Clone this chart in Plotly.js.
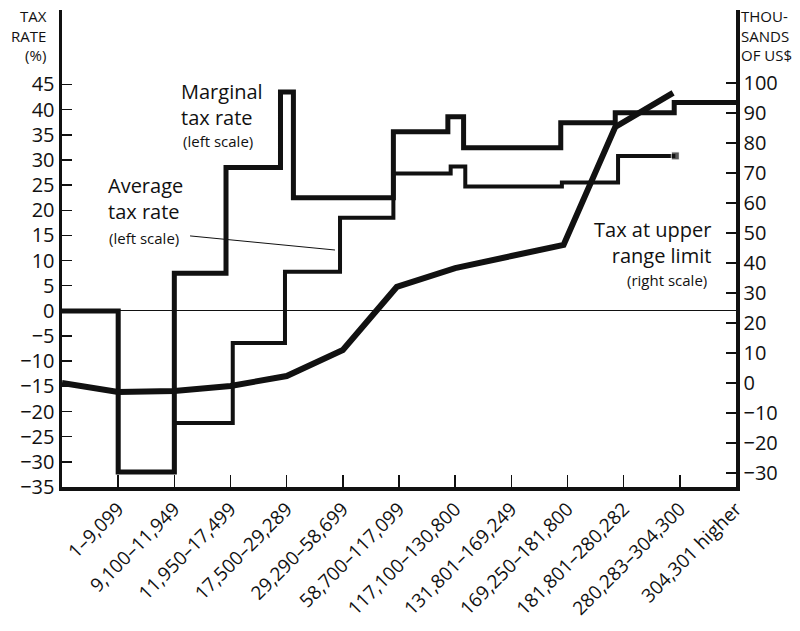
<!DOCTYPE html>
<html>
<head>
<meta charset="utf-8">
<script src="https://cdn.plot.ly/plotly-3.0.1.min.js"></script>
<style>html,body{margin:0;padding:0;background:#fff;}#chart{width:800px;height:631px;}</style>
</head>
<body>
<div id="chart"></div>
<script>
// Income brackets (US$), labels placed at each bracket's upper boundary
const brackets = ["1–9,099","9,100–11,949","11,950–17,499","17,500–29,289","29,290–58,699",
  "58,700–117,099","117,100–130,800","131,801–169,249","169,250–181,800","181,801–280,282",
  "280,283–304,300","304,301 higher"];
const bracketPos = [1,2,3,4,5,6,7,8,9,10,11,12];

// Marginal tax rate (%), step starts in bracket units (left scale)
const marginalX = [0, 1, 2, 2.92, 3.89, 4.12, 5.9, 6.87, 7.15, 8.88, 9.85, 10.9, 12];
const marginalY = [0, -32, 7.5, 28.5, 43.5, 22.5, 35.6, 38.6, 32.4, 37.4, 39.4, 41.4, 41.4];

// Average tax rate (%), step starts in bracket units (left scale)
const averageX = [0, 1, 2, 3.04, 3.97, 4.95, 5.9, 6.92, 7.18, 8.9, 9.9, 10.92];
const averageY = [0, -32, -22.3, -6.4, 7.8, 18.5, 27.3, 28.7, 24.7, 25.5, 30.8, 30.8];

// Tax at upper range limit (thousands of US$, right scale)
const taxX = [0, 1, 2, 3, 4, 5, 5.96, 7, 8, 8.93, 9.85, 10.88];
const taxY = [0, -3, -2.7, -1, 2.3, 11, 32, 38.3, 42.3, 46, 85.3, 96.7];

const leftTicks = [-35,-30,-25,-20,-15,-10,-5,0,5,10,15,20,25,30,35,40,45];
const rightTicks = [-30,-20,-10,0,10,20,30,40,50,60,70,80,90,100];

const FONT = "Open Sans, Noto Sans, sans-serif";

const avgMarkerSizes = averageX.map((_, i) => i === averageX.length - 1 ? 8 : 0);

const traces = [
  {x: averageX, y: averageY, type: 'scatter', mode: 'lines+markers', line: {shape: 'hv', color: '#111', width: 4},
   marker: {size: avgMarkerSizes, symbol: 'square', color: '#111'}, hoverinfo: 'skip'},
  {x: marginalX, y: marginalY, type: 'scatter', mode: 'lines', line: {shape: 'hv', color: '#111', width: 5}, hoverinfo: 'skip'},
  {x: taxX, y: taxY, type: 'scatter', mode: 'lines', yaxis: 'y2', line: {color: '#111', width: 6}, hoverinfo: 'skip'}
];

const ann = (text, x, y, size, xanchor, align) => ({
  text: text, x: x, y: y, xref: 'x', yref: 'y', showarrow: false, xanchor: xanchor, yanchor: 'middle',
  align: align || xanchor, borderpad: 0,
  font: {family: FONT, size: size, color: '#111'}
});

const layout = {
  width: 800, height: 631,
  margin: {l: 62, r: 64, t: 10, b: 144, pad: 0},
  paper_bgcolor: '#fff', plot_bgcolor: '#fff',
  showlegend: false,
  font: {family: FONT, color: '#111'},
  xaxis: {
    range: [0, 12], tickmode: 'array', tickvals: bracketPos, ticktext: brackets, tickangle: -45,
    ticks: 'inside', ticklen: 12, tickwidth: 1.5, tickcolor: '#111',
    showline: true, linewidth: 3.5, linecolor: '#111', showgrid: false, zeroline: false,
    tickfont: {family: FONT, size: 19, color: '#111'}
  },
  yaxis: {
    range: [-35, 59.8], tickmode: 'array', tickvals: leftTicks,
    ticks: 'inside', ticklen: 10, tickwidth: 1.5, tickcolor: '#111',
    showline: true, linewidth: 3.5, linecolor: '#111', showgrid: false,
    zeroline: true, zerolinewidth: 1.2, zerolinecolor: '#111',
    tickfont: {family: FONT, size: 20, color: '#111'}
  },
  yaxis2: {
    range: [-34.67, 124.3], overlaying: 'y', side: 'right', tickmode: 'array', tickvals: rightTicks,
    ticks: 'inside', ticklen: 10, tickwidth: 1.5, tickcolor: '#111',
    showline: true, linewidth: 3.5, linecolor: '#111', showgrid: false, zeroline: false,
    tickfont: {family: FONT, size: 20, color: '#111'}
  },
  annotations: [
    ann('Marginal<br>tax rate', 2.1, 41.0, 20, 'left'),
    ann('(left scale)', 2.13, 33.8, 15, 'left'),
    ann('Average<br>tax rate', 0.8, 22.3, 20, 'left'),
    ann('(left scale)', 0.82, 14.4, 15, 'left'),
    ann('Tax at upper<br>range limit', 11.57, 13.5, 20, 'right'),
    ann('(right scale)', 11.5, 6.1, 15, 'right'),
    {text: 'TAX<br>RATE<br>(%)', xref: 'paper', yref: 'paper', x: -0.021, y: 1.01, xanchor: 'right', yanchor: 'top',
     align: 'right', showarrow: false, borderpad: 0, font: {family: FONT, size: 15, color: '#111'}},
    {text: 'THOU-<br>SANDS<br>OF US$', xref: 'paper', yref: 'paper', x: 1.006, y: 1.01, xanchor: 'left', yanchor: 'top',
     align: 'left', showarrow: false, borderpad: 0, font: {family: FONT, size: 15, color: '#111'}}
  ],
  shapes: [
    {type: 'line', xref: 'x', yref: 'y', x0: 2.28, y0: 14.9, x1: 4.86, y1: 12.1, line: {color: '#111', width: 1}}
  ]
};

Plotly.newPlot('chart', traces, layout, {staticPlot: true, displayModeBar: false});
</script>
</body>
</html>
